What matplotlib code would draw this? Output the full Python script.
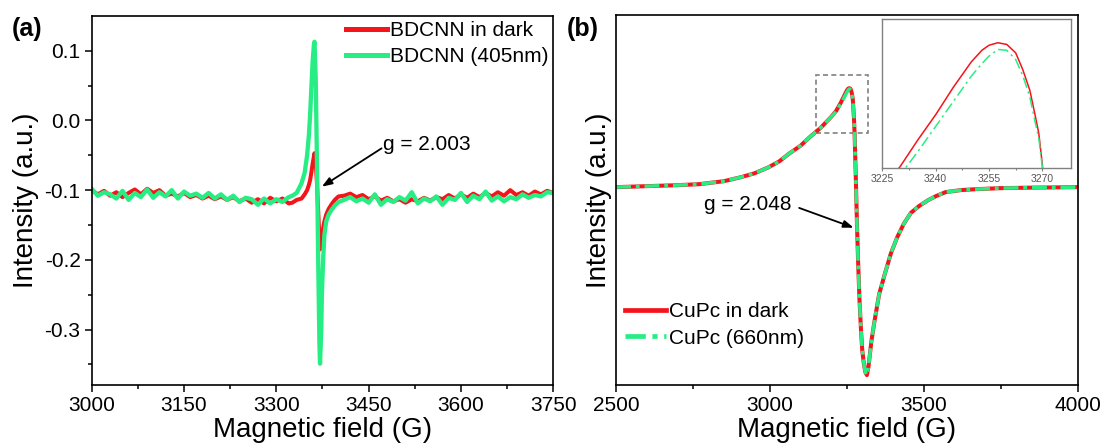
import numpy as np
import matplotlib
matplotlib.use('Agg')
import matplotlib.pyplot as plt
from matplotlib.patches import Rectangle

plt.rcParams['font.family'] = ['Liberation Sans', 'DejaVu Sans']
plt.rcParams['axes.unicode_minus'] = False

RED = '#f5141a'
GREEN = '#27ee84'

# ---- panel (a): BDCNN ----
field_a_left = np.arange(3000, 3321, 10)
field_a_sig = [3326, 3333, 3341, 3346, 3350, 3353, 3355, 3357, 3359, 3361, 3362, 3364, 3366,
               3368, 3370, 3371, 3373, 3374, 3376, 3378, 3381, 3385, 3390, 3395, 3401]
field_a_right = np.arange(3410, 3751, 10)
field_a = np.concatenate([field_a_left, field_a_sig, field_a_right])

dark_a_left = [-0.100, -0.106, -0.101, -0.108, -0.103, -0.110, -0.104, -0.099, -0.106, -0.098,
               -0.104, -0.100, -0.108, -0.105, -0.109, -0.104, -0.110, -0.107, -0.112, -0.108,
               -0.113, -0.109, -0.114, -0.110, -0.116, -0.112, -0.118, -0.113, -0.119, -0.111,
               -0.116, -0.112, -0.119]
dark_a_sig = [-0.118, -0.114, -0.112, -0.106, -0.100, -0.092, -0.085, -0.074, -0.062, -0.052,
              -0.047, -0.060, -0.090, -0.130, -0.170, -0.185, -0.180, -0.170, -0.155, -0.145,
              -0.135, -0.127, -0.120, -0.114, -0.109]
dark_a_right = [-0.108, -0.105, -0.110, -0.107, -0.113, -0.109, -0.115, -0.111, -0.116, -0.113,
                -0.118, -0.113, -0.116, -0.111, -0.115, -0.110, -0.113, -0.107, -0.112, -0.106,
                -0.111, -0.105, -0.110, -0.104, -0.109, -0.103, -0.108, -0.100, -0.107, -0.103,
                -0.108, -0.102, -0.106, -0.101, -0.104]

light_a_left = [-0.098, -0.108, -0.103, -0.106, -0.112, -0.101, -0.114, -0.104, -0.110, -0.099,
                -0.111, -0.103, -0.109, -0.100, -0.112, -0.102, -0.108, -0.105, -0.111, -0.104,
                -0.112, -0.106, -0.114, -0.108, -0.117, -0.111, -0.113, -0.121, -0.112, -0.119,
                -0.113, -0.117, -0.110]
light_a_sig = [-0.108, -0.104, -0.090, -0.075, -0.050, -0.020, 0.010, 0.048, 0.085, 0.108,
               0.113, 0.060, -0.060, -0.200, -0.320, -0.349, -0.300, -0.250, -0.200, -0.165,
               -0.145, -0.135, -0.128, -0.122, -0.117]
light_a_right = [-0.114, -0.110, -0.116, -0.112, -0.118, -0.106, -0.121, -0.113, -0.117, -0.110,
                 -0.115, -0.103, -0.119, -0.112, -0.116, -0.109, -0.121, -0.111, -0.114, -0.104,
                 -0.117, -0.108, -0.113, -0.102, -0.115, -0.109, -0.116, -0.110, -0.113, -0.106,
                 -0.111, -0.107, -0.109, -0.103, -0.104]

dark_a = dark_a_left + dark_a_sig + dark_a_right
light_a = light_a_left + light_a_sig + light_a_right

# ---- panel (b): CuPc ----
field_b = [2500, 2600, 2700, 2770, 2850, 2905, 2950, 2995, 3030, 3063, 3100, 3131, 3165, 3199,
           3215, 3230, 3235, 3240, 3245, 3250, 3253, 3255, 3257.5, 3260, 3262.5, 3264.5, 3266.5,
           3268, 3269, 3270, 3271, 3273, 3275, 3279, 3283, 3287, 3291, 3296, 3300, 3305, 3310,
           3315, 3320, 3330, 3340, 3355, 3374, 3393, 3413, 3435, 3458, 3485, 3515, 3540, 3571,
           3620, 3673, 3750, 3850, 4000]
dark_b = [0.0, 0.01, 0.02, 0.03, 0.06, 0.10, 0.14, 0.20, 0.26, 0.34, 0.42, 0.51, 0.60, 0.71,
          0.77, 0.852, 0.884, 0.914, 0.947, 0.977, 0.991, 0.997, 1.0, 0.998, 0.988, 0.968, 0.943,
          0.913, 0.892, 0.855, 0.80, 0.70, 0.55, 0.10, -0.40, -0.80, -1.14, -1.45, -1.65, -1.78,
          -1.87, -1.90, -1.82, -1.55, -1.35, -1.08, -0.87, -0.67, -0.51, -0.37, -0.26, -0.19,
          -0.13, -0.09, -0.05, -0.03, -0.02, -0.01, -0.005, 0.0]
light_b = [0.0, 0.01, 0.02, 0.03, 0.06, 0.10, 0.14, 0.20, 0.26, 0.34, 0.42, 0.51, 0.60, 0.71,
           0.765, 0.842, 0.870, 0.900, 0.930, 0.960, 0.975, 0.984, 0.992, 0.991, 0.980, 0.961,
           0.935, 0.905, 0.886, 0.852, 0.80, 0.70, 0.55, 0.10, -0.40, -0.80, -1.14, -1.45, -1.65,
           -1.78, -1.87, -1.90, -1.82, -1.55, -1.35, -1.08, -0.87, -0.67, -0.51, -0.37, -0.26,
           -0.19, -0.13, -0.09, -0.05, -0.03, -0.02, -0.01, -0.005, 0.0]

fig = plt.figure(figsize=(11.05, 4.45), dpi=100)
ax1 = fig.add_axes([0.083, 0.1342, 0.4177, 0.830])
ax2 = fig.add_axes([0.5575, 0.1348, 0.4178, 0.8315])

for ax in (ax1, ax2):
    for s in ax.spines.values():
        s.set_linewidth(1.2)
    ax.tick_params(which='major', direction='out', length=5, width=1.1, labelsize=15, pad=3)
    ax.tick_params(which='minor', direction='out', length=3, width=1.1)
    ax.tick_params(top=False, right=False, which='both')

# (a)
ax1.plot(field_a, dark_a, color=RED, lw=2.9, label='BDCNN in dark')
ax1.plot(field_a, light_a, color=GREEN, lw=3.1, label='BDCNN (405nm)')
ax1.set_xlim(3000, 3750)
ax1.set_ylim(-0.38, 0.15)
ax1.set_xticks(np.arange(3000, 3751, 150))
ax1.set_xticks(np.arange(3075, 3750, 150), minor=True)
ax1.set_yticks([-0.3, -0.2, -0.1, 0.0, 0.1])
ax1.set_yticklabels(['-0.3', '-0.2', '-0.1', '0.0', '0.1'])
ax1.set_yticks([-0.35, -0.25, -0.15, -0.05, 0.05], minor=True)
ax1.set_xlabel('Magnetic field (G)', fontsize=20, labelpad=1)
ax1.set_ylabel('Intensity (a.u.)', fontsize=20, labelpad=4)
leg1 = ax1.legend(loc='upper right', frameon=False, fontsize=15, handlelength=2.0,
                  handletextpad=0.1, borderaxespad=0.1, borderpad=0.15, labelspacing=0.35)
for ln in leg1.get_lines():
    ln.set_linewidth(3.6)
ax1.text(3473, -0.035, 'g = 2.003', fontsize=15, va='center', ha='left')
ax1.annotate('', xy=(3374, -0.095), xytext=(3471, -0.040),
             arrowprops=dict(arrowstyle='-|>,head_length=0.6,head_width=0.22', color='black',
                             lw=1.3, shrinkA=0, shrinkB=0))
fig.text(0.011, 0.935, '(a)', fontsize=18, fontweight='bold', ha='left', va='center')

# (b)
ax2.plot(field_b, dark_b, color=RED, lw=2.9, label='CuPc in dark')
ax2.plot(field_b, light_b, color=GREEN, lw=2.5, dashes=(4.3, 1.4, 1.1, 1.4),
         label='CuPc (660nm)')
ax2.set_xlim(2500, 4000)
ax2.set_ylim(-2.0, 1.74)
ax2.set_xticks([2500, 3000, 3500, 4000])
ax2.set_xticks([2750, 3250, 3750], minor=True)
ax2.set_yticks([])
ax2.set_xlabel('Magnetic field (G)', fontsize=20, labelpad=1)
ax2.set_ylabel('Intensity (a.u.)', fontsize=20, labelpad=3)
leg2 = ax2.legend(loc='lower left', bbox_to_anchor=(0.01, 0.09), frameon=False, fontsize=15,
                  handlelength=2.0, handletextpad=0.1, borderaxespad=0.1, borderpad=0.1,
                  labelspacing=0.35)
for ln in leg2.get_lines():
    ln.set_linewidth(3.4)
ax2.text(2787, -0.18, 'g = 2.048', fontsize=15, va='center', ha='left')
ax2.annotate('', xy=(3272, -0.41), xytext=(3095, -0.21),
             arrowprops=dict(arrowstyle='-|>,head_length=0.6,head_width=0.22', color='black',
                             lw=1.3, shrinkA=0, shrinkB=0))
ax2.add_patch(Rectangle((3151, 0.545), 168, 0.585, fill=False, ec='#808080', lw=1.2,
                        ls=(0, (3, 2))))
fig.text(0.513, 0.935, '(b)', fontsize=18, fontweight='bold', ha='left', va='center')

# inset
axi = fig.add_axes([0.7985, 0.6218, 0.1705, 0.3348])
axi.plot(field_b, dark_b, color=RED, lw=1.1)
axi.plot(field_b, light_b, color=GREEN, lw=1.1, dashes=(7, 2.5, 1.5, 2.5))
axi.set_xlim(3225, 3278)
axi.set_ylim(0.85, 1.028)
axi.set_xticks([3225, 3240, 3255, 3270])
axi.set_xticks([3232.5, 3247.5, 3262.5], minor=True)
axi.set_yticks([])
for s in axi.spines.values():
    s.set_color('#808080')
    s.set_linewidth(1.0)
axi.tick_params(which='major', direction='out', length=2.5, width=0.8, colors='#808080',
                labelsize=7.5, labelcolor='#555555', pad=1.5)
axi.tick_params(which='minor', direction='out', length=1.5, width=0.8, colors='#808080')

fig.savefig('out.png', dpi=100)
